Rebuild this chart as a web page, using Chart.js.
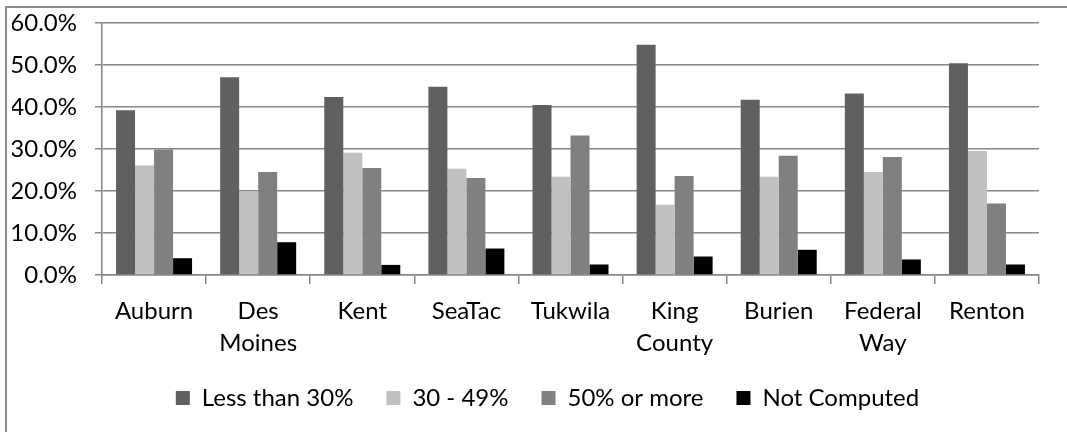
<!DOCTYPE html>
<html lang="en">
<head>
    <meta charset="UTF-8">
    <title>Ratios par ville</title>
    <script src="https://cdn.jsdelivr.net/npm/chart.js"></script>
    <style>
        body { margin: 0; background: #fff; }
        #frame {
            position: absolute; left: 5px; top: 6px; width: 2000px; height: 2000px;
            border-left: 2px solid #8c8c8c; border-top: 2px solid #8c8c8c;
        }
        #wrap { position: absolute; left: 0; top: 0; width: 1067px; height: 432px; }
    </style>
</head>
<body>
    <div id="frame"></div>
    <div id="wrap"><canvas id="ratioChart" width="1067" height="432"></canvas></div>

    <script>
        const categories = ['Auburn', ['Des', 'Moines'], 'Kent', 'SeaTac', 'Tukwila', ['King', 'County'], 'Burien', ['Federal', 'Way'], 'Renton'];
        const seriesNames = ['Less than 30%', '30 - 49%', '50% or more', 'Not Computed'];
        const lessThan30 = [39.2, 47.1, 42.4, 44.8, 40.5, 54.8, 41.7, 43.2, 50.4];
        const from30to49 = [26.1, 20.0, 29.1, 25.3, 23.4, 16.7, 23.4, 24.5, 29.5];
        const fiftyOrMore = [29.9, 24.5, 25.5, 23.1, 33.2, 23.6, 28.4, 28.1, 17.0];
        const notComputed = [4.0, 7.8, 2.4, 6.3, 2.5, 4.4, 6.0, 3.7, 2.5];

        const colors = ['#606060', '#c0c0c0', '#808080', '#000000'];
        const values = [lessThan30, from30to49, fiftyOrMore, notComputed];
        const gridColor = '#878787';
        const font = { family: 'Lato, "Open Sans", sans-serif', size: 24, lineHeight: 1.3 };

        const datasets = values.map((v, i) => ({
            label: seriesNames[i],
            data: v,
            backgroundColor: colors[i],
            borderWidth: 0,
            categoryPercentage: 0.73,
            barPercentage: 1.0
        }));

        // nudge the legend so it sits centred under the whole chart, close to the labels
        const legendNudge = {
            id: 'legendNudge',
            afterLayout(chart) {
                const lg = chart.legend;
                lg.left += 22; lg.right += 22;
                lg.top -= 12; lg.bottom -= 12;
            }
        };

        const ctx = document.getElementById('ratioChart').getContext('2d');
        new Chart(ctx, {
            type: 'bar',
            data: { labels: categories, datasets: datasets },
            plugins: [legendNudge],
            options: {
                responsive: false,
                animation: false,
                layout: { padding: { top: 23, right: 28, left: 12, bottom: 0 } },
                plugins: {
                    tooltip: { enabled: false },
                    legend: {
                        position: 'bottom',
                        labels: {
                            font: font,
                            color: '#000',
                            boxWidth: 14,
                            boxHeight: 14,
                            padding: 33
                        }
                    }
                },
                scales: {
                    x: {
                        grid: { display: true, drawOnChartArea: false, color: gridColor, lineWidth: 1.5, tickLength: 9 },
                        border: { color: gridColor, width: 1.5 },
                        ticks: { font: font, color: '#000', padding: 12, maxRotation: 0, autoSkip: false },
                        afterFit: scale => { scale.height = 90; }
                    },
                    y: {
                        min: 0,
                        max: 60,
                        grid: { color: gridColor, lineWidth: 1.5, tickLength: 7 },
                        border: { color: gridColor, width: 1.5 },
                        ticks: {
                            stepSize: 10,
                            font: font,
                            color: '#000',
                            padding: 18,
                            callback: v => v.toFixed(1) + '%'
                        },
                        afterFit: scale => {
                            scale.width = 90;
                            scale.paddingTop = 0;
                            scale.paddingBottom = 0;
                        }
                    }
                }
            }
        });
    </script>
</body>
</html>
